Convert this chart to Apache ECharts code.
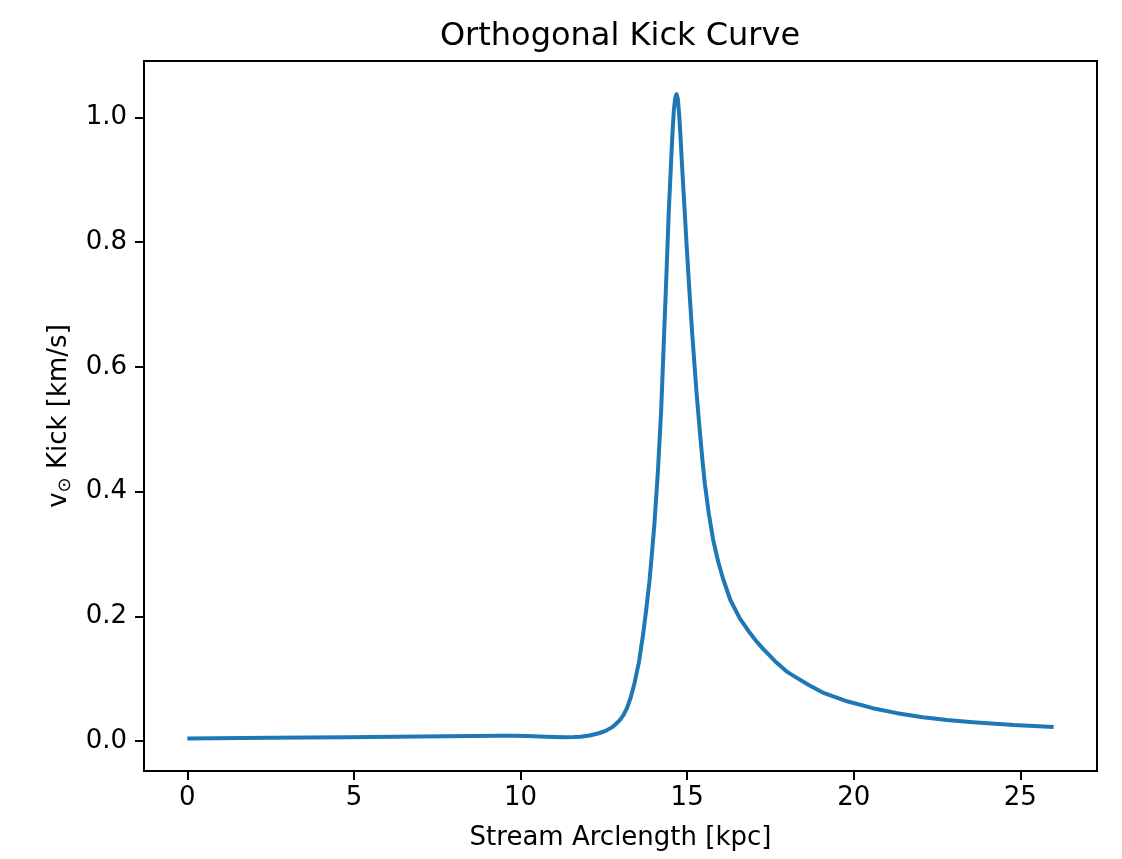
<!DOCTYPE html>
<html>
<head>
<meta charset="utf-8">
<script src="https://cdn.jsdelivr.net/npm/echarts@6/dist/echarts.min.js"></script>
<style>
html,body{margin:0;padding:0;background:#fff;}
#chart{width:1122px;height:859px;}
</style>
</head>
<body>
<div id="chart"></div>
<script>
// Stream arclength [kpc]
var arclength = [0, 2.5, 4.76, 7.0, 9.37, 9.8, 10.2, 10.57, 11.0, 11.37, 11.6, 11.8, 12.07, 12.35, 12.57, 12.76, 12.87, 13.0, 13.1, 13.2, 13.3, 13.42, 13.55, 13.67, 13.77, 13.87, 13.95, 14.02, 14.12, 14.22, 14.3, 14.38, 14.45, 14.52, 14.56, 14.6, 14.64, 14.68, 14.72, 14.76, 14.8, 14.85, 14.92, 14.99, 15.07, 15.15, 15.28, 15.38, 15.46, 15.53, 15.65, 15.78, 15.93, 16.08, 16.3, 16.58, 16.85, 17.08, 17.28, 17.5, 17.68, 17.98, 18.28, 18.65, 19.07, 19.8, 20.57, 21.3, 22.07, 22.8, 23.58, 24.8, 26.0];
// Orthogonal kick [km/s]
var kick = [0.0045, 0.0055, 0.0063, 0.0075, 0.0088, 0.0088, 0.0082, 0.0074, 0.0068, 0.0065, 0.0066, 0.0072, 0.0092, 0.0128, 0.017, 0.023, 0.028, 0.035, 0.043, 0.054, 0.069, 0.093, 0.126, 0.168, 0.21, 0.257, 0.305, 0.35, 0.43, 0.53, 0.64, 0.75, 0.85, 0.93, 0.975, 1.01, 1.03, 1.037, 1.03, 1.005, 0.97, 0.92, 0.855, 0.79, 0.72, 0.655, 0.56, 0.497, 0.45, 0.413, 0.365, 0.323, 0.288, 0.26, 0.226, 0.197, 0.176, 0.16, 0.148, 0.136, 0.126, 0.112, 0.102, 0.09, 0.078, 0.064, 0.053, 0.045, 0.0385, 0.034, 0.0305, 0.026, 0.023];
var xTicks = [0, 5, 10, 15, 20, 25];
var yTicks = [0, 0.2, 0.4, 0.6, 0.8, 1.0];

var seriesData = arclength.map(function (x, i) { return [x, kick[i]]; });

var chart = echarts.init(document.getElementById('chart'), null, {renderer: 'canvas'});
var font = 'DejaVu Sans';
chart.setOption({
  animation: false,
  backgroundColor: '#ffffff',
  title: {
    text: 'Orthogonal Kick Curve',
    left: 615, top: 16, textAlign: 'center',
    textStyle: {fontFamily: font, fontSize: 32, fontWeight: 'normal', color: '#000'}
  },
  grid: {left: 144, right: 25, top: 61, bottom: 88, outerBoundsMode: 'none', containLabel: false,
    show: true, borderColor: '#000', borderWidth: 2, backgroundColor: 'transparent'},
  xAxis: {
    type: 'value', min: -1.3, max: 27.3,
    name: 'Stream Arclength [kpc]', nameLocation: 'middle', nameGap: 54,
    nameTextStyle: {fontFamily: font, fontSize: 26, color: '#000'},
    axisLine: {show: true, onZero: false, lineStyle: {color: '#000', width: 2}},
    axisTick: {show: true, length: 9, lineStyle: {color: '#000', width: 2}, customValues: xTicks},
    axisLabel: {fontFamily: font, fontSize: 26, color: '#000', margin: 14, customValues: xTicks},
    splitLine: {show: false}
  },
  yAxis: {
    type: 'value', min: -0.0477, max: 1.0902,
    name: '{a|v}{b|⊙}{a| Kick [km/s]}', nameLocation: 'middle', nameGap: 66, nameRotate: 90,
    nameTextStyle: {fontFamily: font, fontSize: 26, color: '#000',
      rich: {
        a: {fontFamily: font, fontSize: 26, color: '#000', lineHeight: 32, verticalAlign: 'middle'},
        b: {fontFamily: font, fontSize: 18, color: '#000', lineHeight: 18, verticalAlign: 'bottom'}
      }},
    axisLine: {show: true, onZero: false, lineStyle: {color: '#000', width: 2}},
    axisTick: {show: true, length: 9, lineStyle: {color: '#000', width: 2}, customValues: yTicks},
    axisLabel: {fontFamily: font, fontSize: 26, color: '#000', margin: 17, customValues: yTicks,
      formatter: function (v) { return v.toFixed(1); }},
    splitLine: {show: false}
  },
  series: [{
    type: 'line',
    data: seriesData,
    showSymbol: false,
    smooth: false,
    lineStyle: {color: '#1f77b4', width: 4, join: 'round', cap: 'butt'},
    itemStyle: {color: '#1f77b4'}
  }]
});
</script>
</body>
</html>
